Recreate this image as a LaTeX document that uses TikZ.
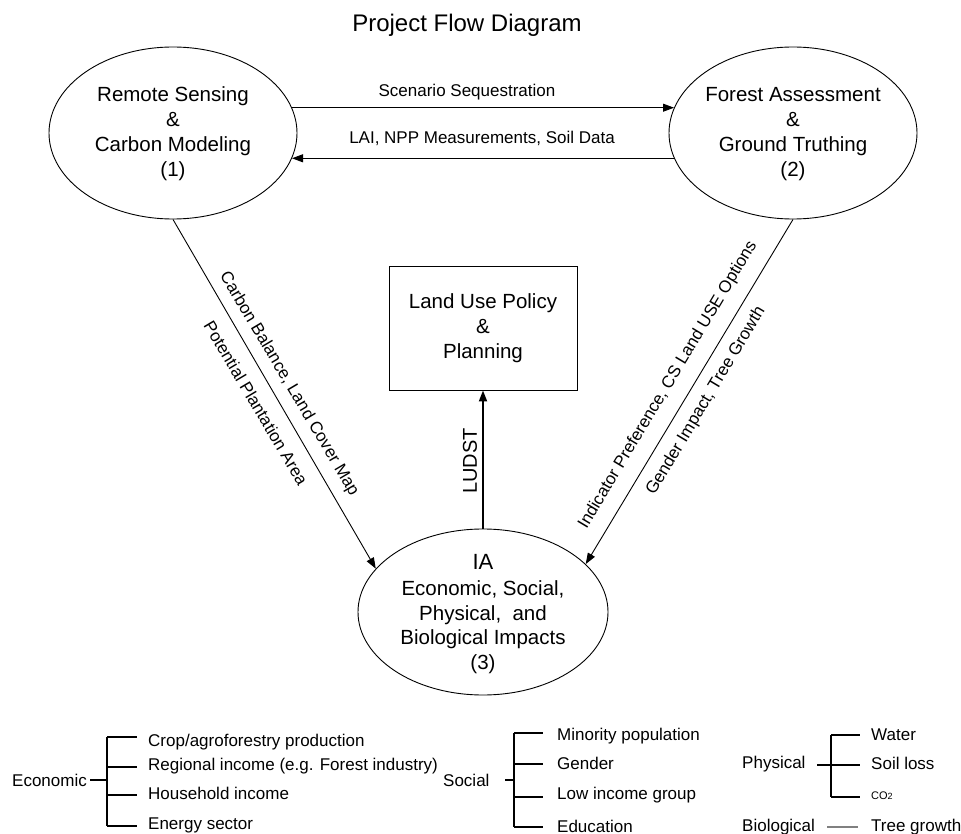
\documentclass[tikz,border=0pt]{standalone}
\usepackage{fontspec}
\setmainfont{Liberation Sans}
\usetikzlibrary{arrows.meta,shapes.geometric,calc}
\begin{document}
\begin{tikzpicture}[x=1pt,y=-1pt,
  ell/.style={ellipse,draw,line width=0.9pt,inner sep=0pt},
  big/.style={font=\fontsize{20.5}{25}\selectfont,align=center,inner sep=0pt},
  lab/.style={font=\fontsize{17}{20}\selectfont,inner sep=0pt},
  con/.style={line width=0.9pt,-{Triangle[length=11pt,width=8pt]}},
  br/.style={line width=1.2pt},
  item/.style={font=\fontsize{17}{20}\selectfont,anchor=base west,inner sep=0pt}]
\useasboundingbox (0,0) rectangle (961,834);

\node[font=\fontsize{24}{28}\selectfont] (title) at (467,25) {Project Flow Diagram};

% main nodes
\node[ell,minimum width=248pt,minimum height=172pt] (e1) at (173,133) {};
\node[big] (t1) at (173,134) {Remote Sensing\\\&\\Carbon Modeling\\(1)};
\node[ell,minimum width=248pt,minimum height=172pt] (e2) at (793,133) {};
\node[big] (t2) at (793,134) {Forest Assessment\\\&\\Ground Truthing\\(2)};
\node[draw,line width=0.9pt,minimum width=188pt,minimum height=124pt,big] (box) at (483,328) {Land Use Policy\\\&\\Planning};
\node[ell,minimum width=250pt,minimum height=166pt] (e3) at (483,612) {};
\node[big,font=\fontsize{20.5}{24.5}\selectfont] (t3) at (483,614) {{\fontsize{22}{26}\selectfont IA}\\[2pt]Economic, Social,\\Physical, \ and\\Biological Impacts\\(3)};

% connectors
\draw[con] (e1.12) -- (e2.168);
\draw[con] (e2.192) -- (e1.348);
\draw[con] (e1.south) -- (e3.158);
\draw[con] (e2.south) -- (e3.25);
\draw[line width=1.8pt,-{Triangle[length=11pt,width=8pt]}] (e3.north) -- (box.south);

% labels
\node[lab] (l1) at (467,92) {Scenario Sequestration};
\node[lab] (l2) at (482,138) {LAI, NPP Measurements, Soil Data};
\node[lab,rotate=-59.3] (l3) at (289,384) {Carbon Balance, Land Cover Map};
\node[lab,rotate=-59.3] (l4) at (256,403) {Potential Plantation Area};
\node[lab,rotate=59.1] (l5) at (668,385) {Indicator Preference, CS Land USE Options};
\node[lab,rotate=59.1] (l6) at (706,401) {Gender Impact, Tree Growth};
\node[lab,font=\fontsize{20}{24}\selectfont,rotate=90] (l7) at (470,461) {LUDST};

% Economic
\node[item] (eco) at (12,786) {Economic};
\coordinate (ecoV) at (107,780);
\draw[br] ([xshift=3pt]eco.east |- ecoV) -- (ecoV);
\draw[br] (107,737) -- (107,826);
\node[item] (ec1) at (148,746) {Crop/agroforestry production};
\node[item] (ec2) at (148,770) {Regional income (e.g. Forest industry)};
\node[item] (ec3) at (148,799) {Household income};
\node[item] (ec4) at (148,829) {Energy sector};
\draw[br] (107,737) -- (137,737);
\draw[br] (107,767) -- (137,767);
\draw[br] (107,795) -- (137,795);
\draw[br] (107,826) -- (137,826);

% Social
\node[item] (soc) at (443,786) {Social};
\coordinate (socV) at (514,780);
\draw[br] (505,780) -- (socV);
\draw[br] (514,733) -- (514,827);
\node[item] (so1) at (557,740) {Minority population};
\node[item] (so2) at (557,769) {Gender};
\node[item] (so3) at (557,799) {Low income group};
\node[item] (so4) at (557,832) {Education};
\draw[br] (514,733) -- (543,733);
\draw[br] (514,764) -- (543,764);
\draw[br] (514,797) -- (543,797);
\draw[br] (514,827) -- (543,827);

% Physical
\node[item] (phy) at (742,768) {Physical};
\draw[br] (817,765) -- (860,765);
\draw[br] (831,735) -- (831,797);
\draw[br] (831,735) -- (860,735);
\draw[br] (831,797) -- (860,797);
\node[item] (ph1) at (871,740) {Water};
\node[item] (ph2) at (871,769) {Soil loss};
\node[item,font=\fontsize{11}{13}\selectfont] (ph3) at (871,799) {CO{\fontsize{9}{10}\selectfont 2}};

% Biological
\node[item] (bio) at (742,831) {Biological};
\node[item] (bi1) at (871,831) {Tree growth};
\draw[line width=1.2pt,gray] ([xshift=12pt]bio.east |- 0,827) -- ([xshift=-13pt]bi1.west |- 0,827);
\end{tikzpicture}
\end{document}
